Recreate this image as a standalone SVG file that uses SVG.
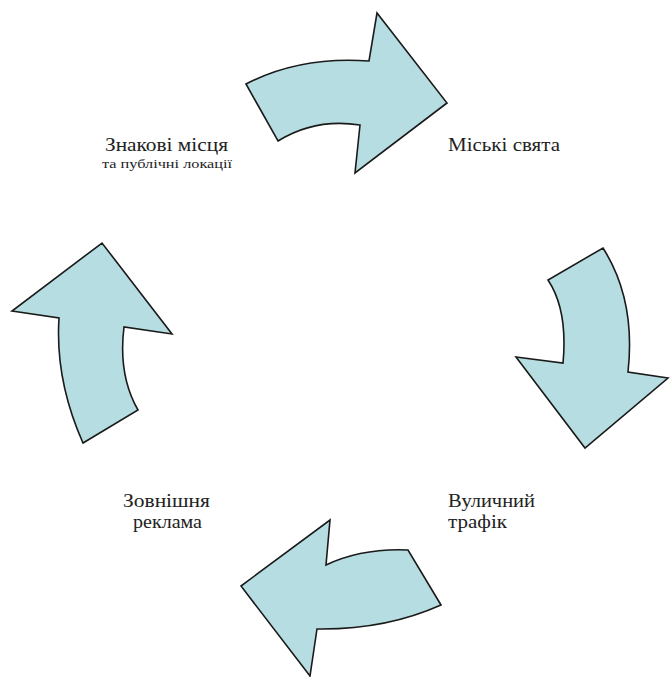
<svg xmlns="http://www.w3.org/2000/svg" width="670" height="677" viewBox="0 0 670 677">
<style>
.arrow{fill:#b6dde1;stroke:#1a1a1a;stroke-width:1.6;stroke-linejoin:miter}
.big{font-family:'Liberation Serif','DejaVu Serif',serif;font-size:19px;fill:#222}
.lbl{font-family:'Liberation Serif','DejaVu Serif',serif;font-size:18px;fill:#222}
.sm{font-family:'Liberation Serif','DejaVu Serif',serif;font-size:13px;fill:#222}
</style>
<rect width="670" height="677" fill="#fff"/>
<g id="connectors">
<path id="arrow-top" class="arrow" d="M246,84 Q300,56 369,61 L377,13 L447,103 L355,173 L360,125 Q315,118 278,141 Z"/>
<path id="arrow-right" class="arrow" d="M603,248 Q636,300 628,372 L668,378 L585,448 L516,357 L563,363 Q568,310 548,280 Z"/>
<path id="arrow-bottom" class="arrow" d="M441,605 Q385,630 317,629 L310,676 L241,586 L330,520 L326,565 Q362,548 408,550 Z"/>
<path id="arrow-left" class="arrow" d="M83,443 Q55,380 59,318 L12,311 L102,243 L172,334 L124,327 Q118,375 138,410 Z"/>
</g>
<g id="node-landmarks">
<text class="big" x="105" y="151" textLength="123" lengthAdjust="spacingAndGlyphs">Знакові місця</text>
<text class="sm" x="102" y="168" textLength="130" lengthAdjust="spacingAndGlyphs">та публічні локації</text>
</g>
<g id="node-festivals">
<text class="big" x="448" y="151" textLength="112" lengthAdjust="spacingAndGlyphs">Міські свята</text>
</g>
<g id="node-traffic">
<text class="lbl" x="448" y="507" textLength="87" lengthAdjust="spacingAndGlyphs">Вуличний</text>
<text class="lbl" x="448" y="528" textLength="59" lengthAdjust="spacingAndGlyphs">трафік</text>
</g>
<g id="node-outdoor">
<text class="lbl" x="123" y="507" textLength="87" lengthAdjust="spacingAndGlyphs">Зовнішня</text>
<text class="lbl" x="133" y="528" textLength="69" lengthAdjust="spacingAndGlyphs">реклама</text>
</g>
</svg>
